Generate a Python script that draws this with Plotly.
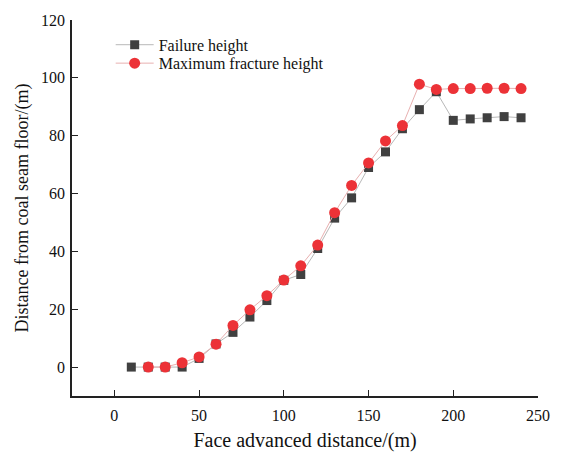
import plotly.graph_objects as go

distance = [10, 20, 30, 40, 50, 60, 70, 80, 90, 100, 110, 120, 130, 140, 150, 160, 170, 180, 190, 200, 210, 220, 230, 240]
failure_height = [0, 0, 0, 0, 3, 8, 12, 17.3, 23, 30, 32, 41, 51.5, 58.5, 69, 74.4, 82.4, 89, 95.2, 85.3, 85.8, 86.2, 86.6, 86.2]
max_fracture_height = [None, 0, 0, 1.5, 3.5, 7.9, 14.4, 19.8, 24.7, 30.1, 35, 42.2, 53.4, 62.8, 70.6, 78.2, 83.5, 97.8, 96, 96.3, 96.3, 96.4, 96.4, 96.3]

FONT = "Liberation Serif"

fig = go.Figure()
fig.add_trace(go.Scatter(
    x=distance, y=failure_height, name="Failure height", mode="lines+markers",
    line=dict(color="#b8b8b8", width=1),
    marker=dict(symbol="square", size=9, color="#404040"),
    legend="legend",
))
fig.add_trace(go.Scatter(
    x=distance, y=max_fracture_height, name="Maximum fracture height", mode="lines+markers",
    line=dict(color="#e8b0b0", width=1),
    marker=dict(symbol="circle", size=11, color="#ec3237"),
    connectgaps=False,
    legend="legend2",
))

leg_common = dict(x=0.083, xanchor="left", yanchor="middle",
                  bgcolor="rgba(0,0,0,0)", font=dict(family=FONT, size=16),
                  itemwidth=38)

fig.update_layout(
    width=562, height=461,
    margin=dict(l=72, r=13, t=15, b=65),
    plot_bgcolor="white", paper_bgcolor="white",
    font=dict(family=FONT, size=16, color="#111111"),
    showlegend=True,
    legend=dict(y=0.934, **leg_common),
    legend2=dict(y=0.885, **leg_common),
    xaxis=dict(
        range=[-25, 250], tickvals=[0, 50, 100, 150, 200, 250],
        showgrid=False, zeroline=False, showline=True, linecolor="#222222", linewidth=1.5,
        ticks="inside", ticklen=6, tickcolor="#222222", tickwidth=1.2,
        ticklabelstandoff=4,
        title=dict(text="Face advanced distance/(m)", font=dict(family=FONT, size=20), standoff=10),
    ),
    yaxis=dict(
        range=[-10, 120], tickvals=[0, 20, 40, 60, 80, 100, 120],
        showgrid=False, zeroline=False, showline=True, linecolor="#222222", linewidth=1.5,
        ticks="inside", ticklen=6, tickcolor="#222222", tickwidth=1.2,
        ticklabelstandoff=2,
        title=dict(text="Distance from coal seam floor/(m)", font=dict(family=FONT, size=18), standoff=8),
    ),
)

fig.write_html("out.html")
